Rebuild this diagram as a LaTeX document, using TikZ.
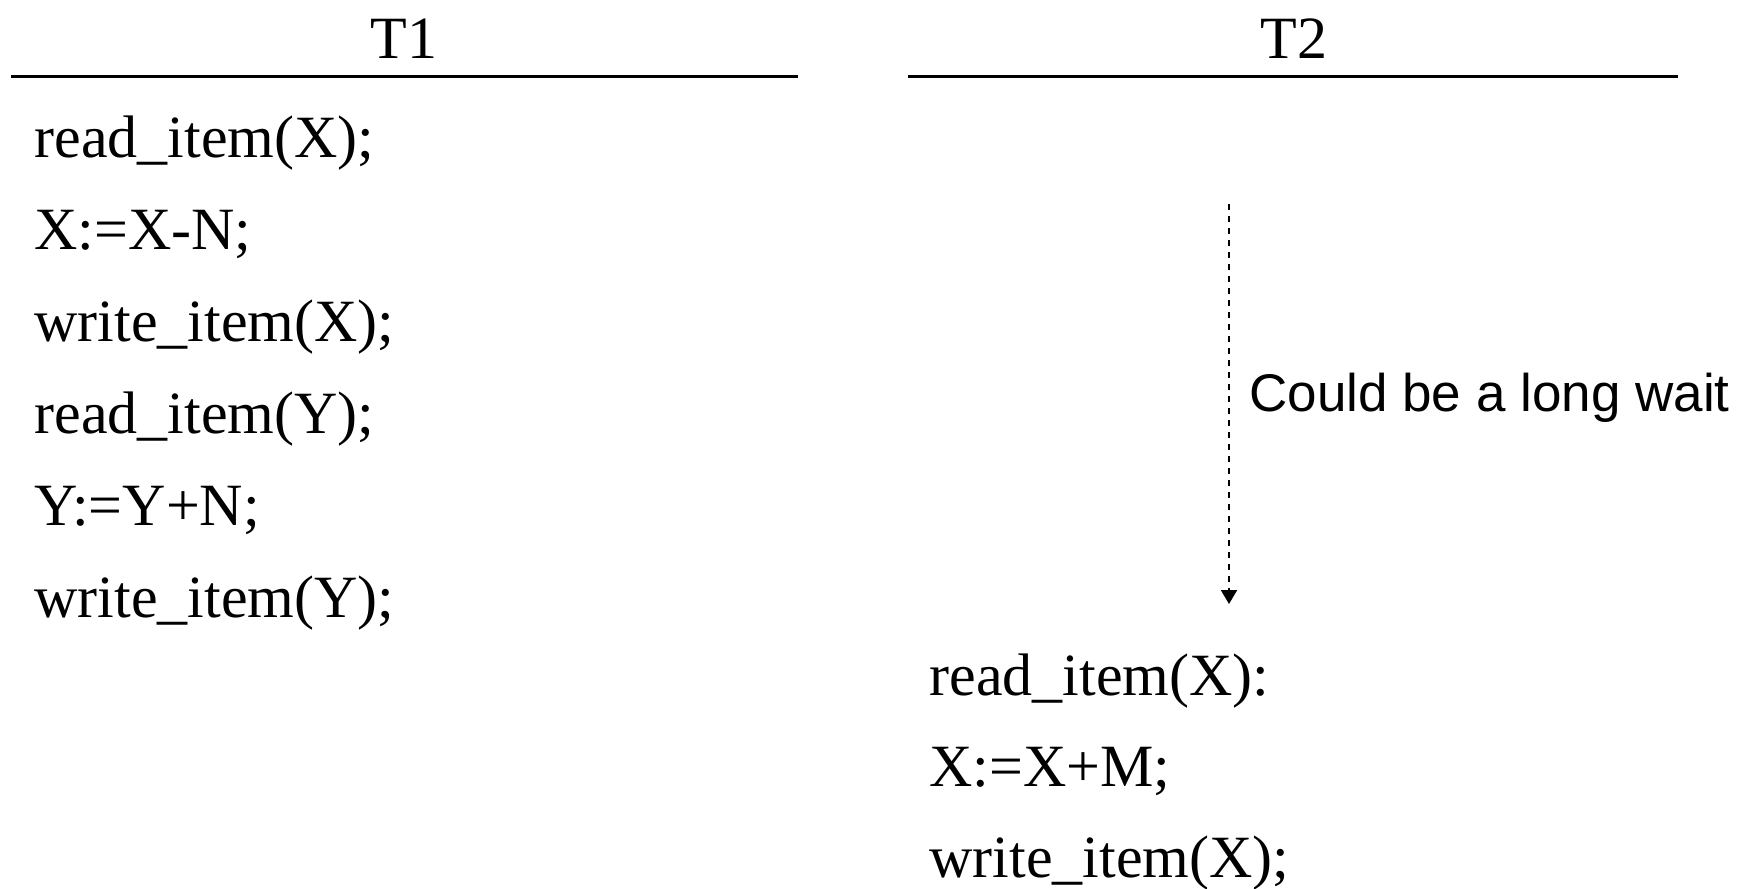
\documentclass[tikz,border=0pt]{standalone}
\usepackage{fontspec}
\setmainfont{Liberation Serif}
\newfontfamily\labelsans{Liberation Sans}
\usetikzlibrary{arrows.meta}

\tikzset{
  head/.style={anchor=base, inner sep=0pt, font=\fontsize{30}{35}\selectfont},
  code/.style={anchor=base west, inner sep=0pt, font=\fontsize{30}{36}\selectfont},
  rule/.style={line width=1.5pt},
  waitarrow/.style={line width=1.1pt, dash pattern=on 3.2pt off 2.8pt,
    -{Triangle[width=8pt,length=7pt]}},
  note/.style={anchor=base west, inner sep=0pt, font=\labelsans\fontsize{26.5}{32}\selectfont}
}

\begin{document}
\begin{tikzpicture}[x=0.5pt, y=-0.5pt]
  \useasboundingbox (0,0) rectangle (1752,889);

  % column headings with their rules
  \node[head] (t1) at (404,58) {T1};
  \node[head] (t2) at (1294,58) {T2};
  \draw[rule] (11,76) -- (798,76);
  \draw[rule] (908,76) -- (1678,76);

  % transaction T1
  \node[code] (a1) at (34,157) {read\_item(X);};
  \node[code] (a2) at (34,249) {X:=X-N;};
  \node[code] (a3) at (34,341) {write\_item(X);};
  \node[code] (a4) at (34,433) {read\_item(Y);};
  \node[code] (a5) at (34,525) {Y:=Y+N;};
  \node[code] (a6) at (34,617) {write\_item(Y);};

  % transaction T2
  \node[code] (b1) at (929,695) {read\_item(X):};
  \node[code] (b2) at (929,786) {X:=X+M;};
  \node[code] (b3) at (929,877) {write\_item(X);};

  % waiting interval
  \coordinate (wtop) at (1229,204);
  \coordinate (wbot) at (1229,604);
  \draw[waitarrow] (wtop) -- (wbot);
  \node[note] (wait) at (1249,411) {Could be a long wait};
\end{tikzpicture}
\end{document}
